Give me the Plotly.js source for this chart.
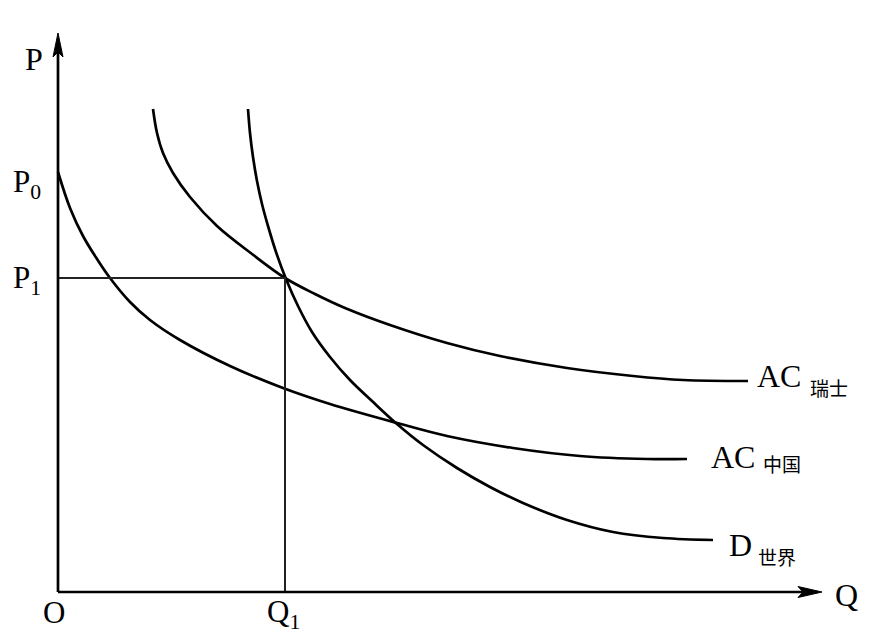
<!DOCTYPE html>
<html>
<head>
<meta charset="utf-8">
<script src="https://cdn.plot.ly/plotly-3.0.1.min.js"></script>
<style>html,body{margin:0;padding:0;background:#fff;}#chart{width:885px;height:639px;}</style>
</head>
<body>
<div id="chart"></div>
<script>
// Quantity (Q) and price (P) values
var acChinaQ = [0, 12, 25, 39, 52, 72, 92, 122, 172, 225, 272, 339, 389, 455, 522, 589, 629];
var acChinaP = [420, 384, 356, 333, 314, 290, 272, 252, 226, 204, 188, 169, 156, 144, 136, 133, 133];

var acSwissQ = [95, 99, 105, 115, 132, 159, 194, 227, 257, 287, 332, 389, 442, 509, 575, 625, 690];
var acSwissP = [483, 459, 439, 419, 395, 366, 338, 314, 298, 284, 267, 249, 236, 224, 216, 212, 211];

var demandQ = [190, 192, 195, 199, 204, 210, 218, 228, 240, 254, 272, 292, 314, 339, 365, 399, 432, 465, 509, 555, 605, 655];
var demandP = [483, 459, 435, 411, 388, 366, 340, 313, 286, 260, 235, 212, 191, 168, 147, 124, 105, 89, 72, 60, 54, 52];

var q1 = 227, p1 = 314;

var FONT = "'Liberation Serif', 'Times New Roman', serif";
var CJK = "'Noto Sans CJK SC', 'Noto Sans CJK TC', sans-serif";

function curve(x, y) {
  return {x: x, y: y, mode: 'lines', type: 'scatter', hoverinfo: 'skip',
          line: {color: '#000', width: 2.7, shape: 'spline', smoothing: 1}};
}
var traces = [
  curve(acChinaQ, acChinaP),
  curve(acSwissQ, acSwissP),
  curve(demandQ, demandP),
  {x: [0, q1, q1], y: [p1, p1, 0], mode: 'lines', type: 'scatter', hoverinfo: 'skip',
   line: {color: '#222', width: 2}}
];

function lab(x, y, text, size, xanchor, family) {
  return {x: x, y: y, xref: 'x', yref: 'y', text: text, showarrow: false,
          xanchor: xanchor || 'center', yanchor: 'middle',
          font: {family: family || FONT, size: size || 32, color: '#000'}};
}

var annotations = [
  lab(-24, 533, 'P', 32),
  lab(-31, 408, 'P<sub>0</sub>', 31),
  lab(-31, 312, 'P<sub>1</sub>', 31),
  lab(-4, -20, 'O', 31),
  lab(q1 - 2, -22, 'Q<sub>1</sub>', 31),
  lab(788, -3, 'Q', 32),
  lab(697, 216, 'AC', 32, 'left'),
  lab(750, 205, '瑞士', 19, 'left', CJK),
  lab(651, 135, 'AC', 32, 'left'),
  lab(703, 129, '中国', 19, 'left', CJK),
  lab(669, 47, 'D', 32, 'left'),
  lab(698, 36, '世界', 19, 'left', CJK)
];

var shapes = [
  {type: 'line', x0: 0, y0: 0, x1: 0, y1: 541, line: {color: '#000', width: 2.7}},
  {type: 'line', x0: 0, y0: 0, x1: 746, y1: 0, line: {color: '#000', width: 2.7}},
  {type: 'path', path: 'M 0 559 L -5 535 L 0 540 L 5 535 Z', fillcolor: '#000', line: {color: '#000', width: 1}},
  {type: 'path', path: 'M 764 0 L 740 5.5 L 745 0 L 740 -5.5 Z', fillcolor: '#000', line: {color: '#000', width: 1}}
];

var layout = {
  width: 885, height: 639,
  margin: {l: 0, r: 0, t: 0, b: 0, pad: 0},
  paper_bgcolor: '#fff', plot_bgcolor: '#fff',
  showlegend: false,
  xaxis: {range: [-58, 827], visible: false, fixedrange: true},
  yaxis: {range: [-47, 592], visible: false, fixedrange: true},
  annotations: annotations,
  shapes: shapes
};
Plotly.newPlot('chart', traces, layout, {staticPlot: true, displayModeBar: false});
</script>
</body>
</html>
